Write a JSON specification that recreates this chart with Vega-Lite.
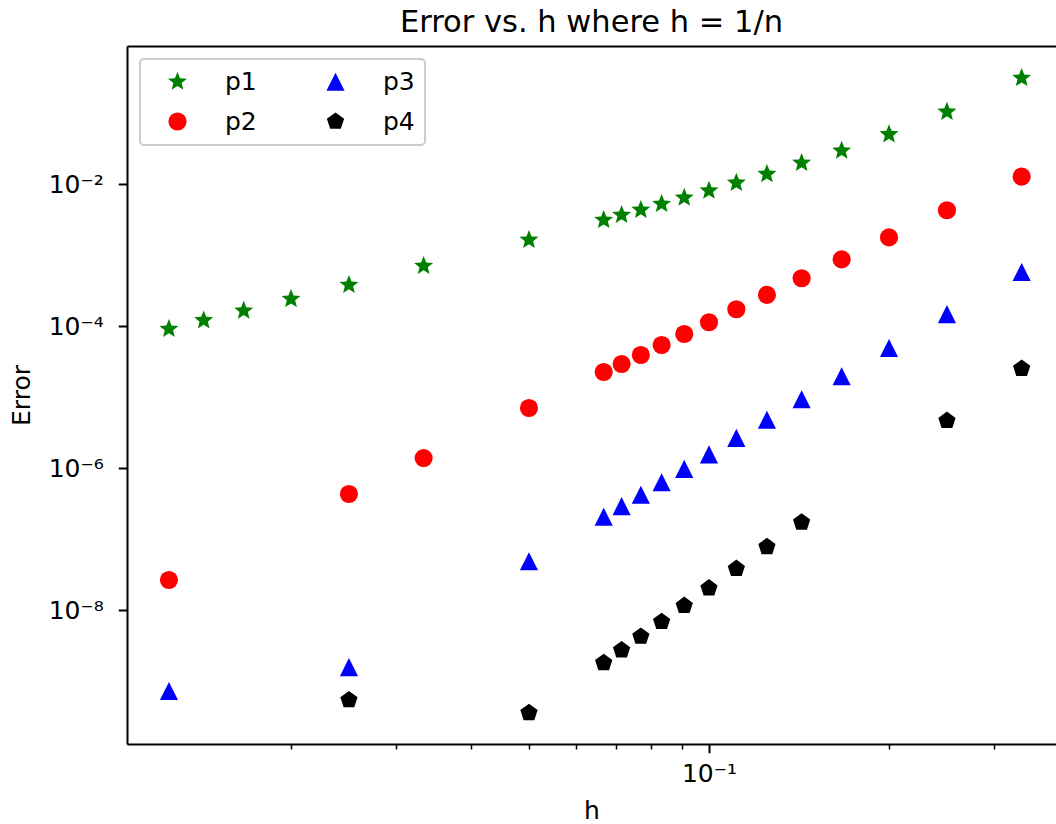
{
  "$schema": "https://vega.github.io/schema/vega-lite/v6.json",
  "width": 929,
  "height": 698,
  "autosize": {"type": "none"},
  "padding": {"left": 127, "top": 46, "right": 0, "bottom": 80},
  "background": "white",
  "title": {
    "text": "Error vs. h where h = 1/n",
    "font": "DejaVu Sans",
    "fontSize": 30.5,
    "fontWeight": "normal",
    "color": "black",
    "anchor": "middle",
    "baseline": "alphabetic",
    "offset": 14,
    "dx": 0,
    "dy": 30
  },
  "data": {
    "values": [
      {"series": "p1", "h": 0.33333, "err": 0.311},
      {"series": "p1", "h": 0.25, "err": 0.104},
      {"series": "p1", "h": 0.2, "err": 0.0501},
      {"series": "p1", "h": 0.16667, "err": 0.0294},
      {"series": "p1", "h": 0.14286, "err": 0.0198},
      {"series": "p1", "h": 0.125, "err": 0.0138},
      {"series": "p1", "h": 0.11111, "err": 0.0104},
      {"series": "p1", "h": 0.1, "err": 0.00805},
      {"series": "p1", "h": 0.09091, "err": 0.00641},
      {"series": "p1", "h": 0.08333, "err": 0.00523},
      {"series": "p1", "h": 0.07692, "err": 0.00431},
      {"series": "p1", "h": 0.07143, "err": 0.00366},
      {"series": "p1", "h": 0.06667, "err": 0.00311},
      {"series": "p1", "h": 0.05, "err": 0.00163},
      {"series": "p1", "h": 0.03333, "err": 0.0007},
      {"series": "p1", "h": 0.025, "err": 0.000378},
      {"series": "p1", "h": 0.02, "err": 0.00024},
      {"series": "p1", "h": 0.01667, "err": 0.000164},
      {"series": "p1", "h": 0.01429, "err": 0.00012},
      {"series": "p1", "h": 0.0125, "err": 0.0000908},
      {"series": "p2", "h": 0.33333, "err": 0.0127},
      {"series": "p2", "h": 0.25, "err": 0.00427},
      {"series": "p2", "h": 0.2, "err": 0.00177},
      {"series": "p2", "h": 0.16667, "err": 0.000869},
      {"series": "p2", "h": 0.14286, "err": 0.00047},
      {"series": "p2", "h": 0.125, "err": 0.000274},
      {"series": "p2", "h": 0.11111, "err": 0.000172},
      {"series": "p2", "h": 0.1, "err": 0.000113},
      {"series": "p2", "h": 0.09091, "err": 0.0000771},
      {"series": "p2", "h": 0.08333, "err": 0.000054},
      {"series": "p2", "h": 0.07692, "err": 0.0000391},
      {"series": "p2", "h": 0.07143, "err": 0.0000292},
      {"series": "p2", "h": 0.06667, "err": 0.0000225},
      {"series": "p2", "h": 0.05, "err": 0.000007},
      {"series": "p2", "h": 0.03333, "err": 0.00000138},
      {"series": "p2", "h": 0.025, "err": 4.31e-7},
      {"series": "p2", "h": 0.0125, "err": 2.65e-8},
      {"series": "p3", "h": 0.33333, "err": 0.000577},
      {"series": "p3", "h": 0.25, "err": 0.000147},
      {"series": "p3", "h": 0.2, "err": 0.000049},
      {"series": "p3", "h": 0.16667, "err": 0.0000196},
      {"series": "p3", "h": 0.14286, "err": 0.00000931},
      {"series": "p3", "h": 0.125, "err": 0.00000478},
      {"series": "p3", "h": 0.11111, "err": 0.00000266},
      {"series": "p3", "h": 0.1, "err": 0.00000156},
      {"series": "p3", "h": 0.09091, "err": 9.74e-7},
      {"series": "p3", "h": 0.08333, "err": 6.31e-7},
      {"series": "p3", "h": 0.07692, "err": 4.2e-7},
      {"series": "p3", "h": 0.07143, "err": 2.9e-7},
      {"series": "p3", "h": 0.06667, "err": 2.06e-7},
      {"series": "p3", "h": 0.05, "err": 4.86e-8},
      {"series": "p3", "h": 0.025, "err": 1.57e-9},
      {"series": "p3", "h": 0.0125, "err": 7.23e-10},
      {"series": "p4", "h": 0.33333, "err": 0.0000251},
      {"series": "p4", "h": 0.25, "err": 0.00000464},
      {"series": "p4", "h": 0.14286, "err": 1.72e-7},
      {"series": "p4", "h": 0.125, "err": 7.76e-8},
      {"series": "p4", "h": 0.11111, "err": 3.82e-8},
      {"series": "p4", "h": 0.1, "err": 2.03e-8},
      {"series": "p4", "h": 0.09091, "err": 1.15e-8},
      {"series": "p4", "h": 0.08333, "err": 6.84e-9},
      {"series": "p4", "h": 0.07692, "err": 4.24e-9},
      {"series": "p4", "h": 0.07143, "err": 2.72e-9},
      {"series": "p4", "h": 0.06667, "err": 1.8e-9},
      {"series": "p4", "h": 0.05, "err": 3.56e-10},
      {"series": "p4", "h": 0.025, "err": 5.4e-10}
    ]
  },
  "layer": [
    {
      "mark": {"type": "point", "filled": true, "opacity": 1, "size": 330, "strokeWidth": 0},
      "encoding": {
        "x": {
          "field": "h",
          "type": "quantitative",
          "scale": {"type": "log", "domain": [0.010636, 0.38045], "nice": false, "zero": false},
          "axis": {
            "title": "h",
            "grid": false,
            "values": [0.02, 0.03, 0.04, 0.05, 0.06, 0.07, 0.08, 0.09, 0.1, 0.2, 0.3],
            "labelExpr": "abs(datum.value - 0.1) < 1e-9 ? '10⁻¹' : ''",
            "tickSize": {"condition": {"test": "abs(datum.value - 0.1) < 1e-9", "value": 8.75}, "value": 5},
            "tickWidth": {"condition": {"test": "abs(datum.value - 0.1) < 1e-9", "value": 2}, "value": 1.5},
            "labelPadding": 9,
            "titlePadding": 12,
            "labelFlush": false,
            "labelOverlap": false
          }
        },
        "y": {
          "field": "err",
          "type": "quantitative",
          "scale": {"type": "log", "domain": [1.297e-10, 0.8785], "nice": false, "zero": false},
          "axis": {
            "title": "Error",
            "grid": false,
            "values": [1e-8, 1e-6, 1e-4, 1e-2],
            "labelExpr": "datum.value > 0.005 ? '10⁻²' : datum.value > 0.00005 ? '10⁻⁴' : datum.value > 5e-7 ? '10⁻⁶' : '10⁻⁸'",
            "tickSize": 8.75,
            "tickWidth": 2,
            "labelPadding": 15,
            "titlePadding": 14,
            "labelFlush": false,
            "labelOverlap": false
          }
        },
        "color": {
          "field": "series",
          "type": "nominal",
          "scale": {"domain": ["p1", "p2", "p3", "p4"], "range": ["#008000", "#ff0000", "#0000ff", "#000000"]},
          "legend": {"title": null}
        },
        "shape": {
          "field": "series",
          "type": "nominal",
          "scale": {
            "domain": ["p1", "p2", "p3", "p4"],
            "range": [
              "M0,-1.1L0.2821,-0.3883L1.046,-0.34L0.4565,0.1483L0.6466,0.8899L0,0.48L-0.6466,0.8899L-0.4565,0.1483L-1.046,-0.34L-0.2821,-0.3883Z",
              "circle",
              "M0,-1L1,1L-1,1Z",
              "M0,-1L0.951,-0.309L0.5878,0.809L-0.5878,0.809L-0.951,-0.309Z"
            ]
          },
          "legend": {"title": null}
        }
      }
    },
    {
      "mark": {"type": "point", "opacity": 0},
      "encoding": {
        "x": {
          "field": "h",
          "type": "quantitative",
          "scale": {"type": "log", "domain": [0.010636, 0.38045], "nice": false, "zero": false},
          "axis": {"orient": "top", "ticks": false, "labels": false, "title": null, "grid": false, "domain": true}
        }
      }
    }
  ],
  "resolve": {"axis": {"x": "independent"}},
  "config": {
    "view": {"stroke": null},
    "font": "DejaVu Sans",
    "axis": {
      "domainColor": "black",
      "domainWidth": 2,
      "tickColor": "black",
      "labelColor": "black",
      "labelFont": "DejaVu Sans",
      "labelFontSize": 25,
      "titleFont": "DejaVu Sans",
      "titleFontSize": 25,
      "titleFontWeight": "normal",
      "titleColor": "black"
    },
    "legend": {
      "orient": "none",
      "legendX": 13,
      "legendY": 13,
      "columns": 2,
      "fillColor": "white",
      "strokeColor": "#cccccc",
      "strokeWidth": 2,
      "cornerRadius": 4,
      "padding": 10,
      "symbolOffset": 15,
      "labelOffset": 35,
      "columnPadding": 51,
      "rowPadding": 14,
      "labelFont": "DejaVu Sans",
      "labelFontSize": 25,
      "labelColor": "black",
      "symbolSize": 330,
      "symbolStrokeWidth": 0,
      "symbolOpacity": 1
    }
  }
}
